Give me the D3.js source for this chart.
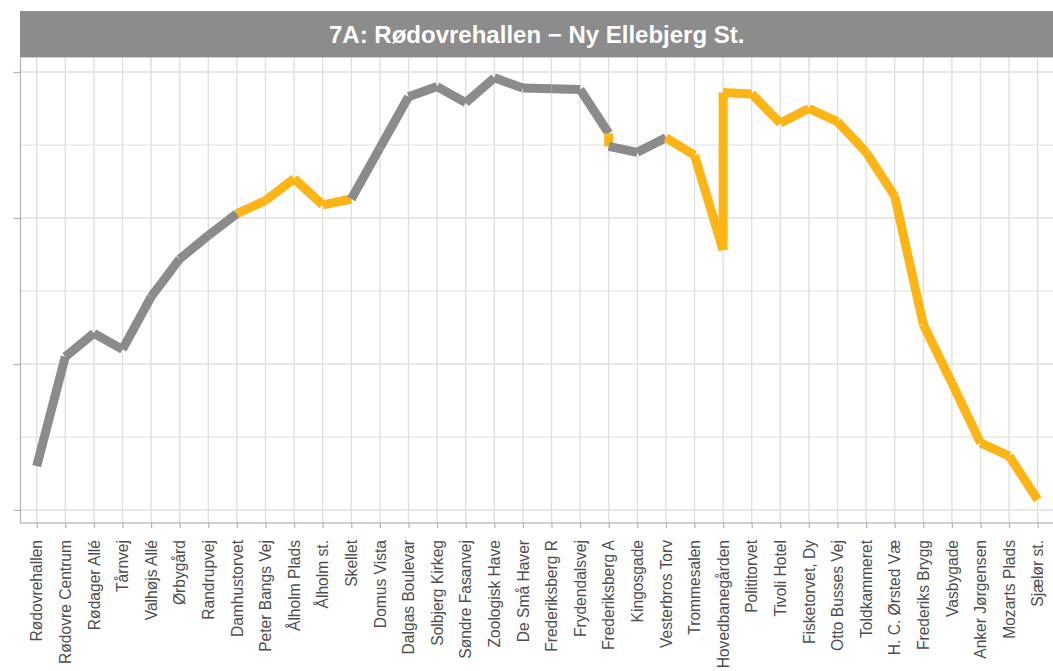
<!DOCTYPE html>
<html>
<head>
<meta charset="utf-8">
<script src="https://cdn.jsdelivr.net/npm/d3@7"></script>
<style>
  html, body { margin: 0; padding: 0; background: #fff; overflow: hidden; }
  svg { display: block; }
</style>
</head>
<body>
<div id="chart"></div>
<script>
// Route 7A, one line segment per stop-to-stop leg

const title = '7A: Rødovrehallen \u2212 Ny Ellebjerg St.';

const stops = [
    'Rødovrehallen', 'Rødovre Centrum', 'Rødager Allé', 'Tårnvej', 'Valhøjs Allé',
    'Ørbygård', 'Randrupvej', 'Damhustorvet', 'Peter Bangs Vej', 'Ålholm Plads',
    'Ålholm st.', 'Skellet', 'Domus Vista', 'Dalgas Boulevar', 'Solbjerg Kirkeg',
    'Søndre Fasanvej', 'Zoologisk Have', 'De Små Haver', 'Frederiksberg R', 'Frydendalsvej',
    'Frederiksberg A', 'Kingosgade', 'Vesterbros Torv', 'Trommesalen', 'Hovedbanegården',
    'Polititorvet', 'Tivoli Hotel', 'Fisketorvet, Dy', 'Otto Busses Vej', 'Toldkammeret',
    'H. C. Ørsted Væ', 'Frederiks Brygg', 'Vasbygade', 'Anker Jørgensen', 'Mozarts Plads',
    'Sjælør st.'
];

// path through the stops (arrival + departure where a stop appears twice)
const pathStops = [
    'Rødovrehallen', 'Rødovre Centrum', 'Rødager Allé', 'Tårnvej', 'Valhøjs Allé',
    'Ørbygård', 'Randrupvej', 'Damhustorvet', 'Peter Bangs Vej', 'Ålholm Plads',
    'Ålholm st.', 'Skellet', 'Domus Vista', 'Dalgas Boulevar', 'Solbjerg Kirkeg',
    'Søndre Fasanvej', 'Zoologisk Have', 'De Små Haver', 'Frederiksberg R', 'Frydendalsvej',
    'Frederiksberg A', 'Frederiksberg A', 'Kingosgade', 'Vesterbros Torv', 'Trommesalen',
    'Hovedbanegården', 'Hovedbanegården', 'Polititorvet', 'Tivoli Hotel', 'Fisketorvet, Dy',
    'Otto Busses Vej', 'Toldkammeret', 'H. C. Ørsted Væ', 'Frederiks Brygg', 'Vasbygade',
    'Anker Jørgensen', 'Mozarts Plads', 'Sjælør st.'
];

const pathValues = [
    3.0, 10.5, 12.1, 11.0, 14.6,
    17.2, 18.8, 20.3, 21.2, 22.7,
    20.9, 21.3, 24.8, 28.3, 29.0,
    27.9, 29.6, 28.9, 28.85, 28.8,
    25.8, 24.9, 24.5, 25.5, 24.3,
    17.8, 28.6, 28.5, 26.5, 27.5,
    26.6, 24.5, 21.5, 12.7, 8.7,
    4.6, 3.7, 0.7
];

// 1 = highlighted leg (orange), 0 = normal leg (grey); one entry per leg
const legFlag = [
    0, 0, 0, 0, 0, 0, 0,
    1, 1, 1, 1,
    0, 0, 0, 0, 0, 0, 0, 0, 0,
    1,
    0, 0,
    1, 1, 1, 1, 1, 1, 1, 1, 1, 1, 1, 1, 1, 1
];

const yMajor = [0, 10, 20, 30];
const yMinor = [5, 15, 25];

const COLORS = { normal: '#8b8b8b', flagged: '#fdb515', strip: '#8c8c8c', grid: '#e0e0e0', border: '#b3b3b3', text: '#4d4d4d' };

const width = 1053, height = 671;
const panel = { left: 20.5, right: 1055, top: 57, bottom: 523 };
const stripTop = 11;

const svg = d3.select('#chart').append('svg')
    .attr('width', width)
    .attr('height', height);

const x = d3.scalePoint().domain(stops).range([36.7, 1037.7]);
const y = d3.scaleLinear().domain([0, 30]).range([510, 72]);

// Panel background + grid
svg.append('rect')
    .attr('x', panel.left).attr('y', panel.top)
    .attr('width', panel.right - panel.left).attr('height', panel.bottom - panel.top)
    .attr('fill', '#fff');

svg.append('g').selectAll('line')
    .data(yMinor)
    .join('line')
    .attr('x1', panel.left).attr('x2', panel.right)
    .attr('y1', d => y(d)).attr('y2', d => y(d))
    .attr('stroke', COLORS.grid).attr('stroke-width', 1);

svg.append('g').selectAll('line')
    .data(yMajor)
    .join('line')
    .attr('x1', panel.left).attr('x2', panel.right)
    .attr('y1', d => y(d)).attr('y2', d => y(d))
    .attr('stroke', COLORS.grid).attr('stroke-width', 1.4);

svg.append('g').selectAll('line')
    .data(stops)
    .join('line')
    .attr('x1', d => x(d)).attr('x2', d => x(d))
    .attr('y1', panel.top).attr('y2', panel.bottom)
    .attr('stroke', COLORS.grid).attr('stroke-width', 1.4);

// Legs
const points = pathStops.map((s, i) => ({ s, v: pathValues[i] }));
const legs = legFlag.map((f, i) => ({ a: points[i], b: points[i + 1], f }));

svg.append('g').selectAll('line')
    .data(legs)
    .join('line')
    .attr('x1', d => x(d.a.s)).attr('y1', d => y(d.a.v))
    .attr('x2', d => x(d.b.s)).attr('y2', d => y(d.b.v))
    .attr('stroke', d => d.f ? COLORS.flagged : COLORS.normal)
    .attr('stroke-width', 9)
    .attr('stroke-linecap', 'butt');

// Panel border
svg.append('rect')
    .attr('x', panel.left).attr('y', panel.top)
    .attr('width', panel.right - panel.left).attr('height', panel.bottom - panel.top)
    .attr('fill', 'none')
    .attr('stroke', COLORS.border).attr('stroke-width', 1.2);

// Axes (no y labels)
const yAxis = svg.append('g')
    .attr('transform', `translate(${panel.left},0)`)
    .call(d3.axisLeft(y).tickValues(yMajor).tickSize(7).tickFormat(''));
yAxis.select('.domain').remove();
yAxis.selectAll('line').attr('stroke', COLORS.border).attr('stroke-width', 1.2);

const xAxis = svg.append('g')
    .attr('transform', `translate(0,${panel.bottom})`)
    .call(d3.axisBottom(x).tickSize(5).tickPadding(17));
xAxis.select('.domain').remove();
xAxis.selectAll('line').attr('stroke', COLORS.border).attr('stroke-width', 1.2);
xAxis.attr('font-size', null);
xAxis.selectAll('text')
    .attr('transform', 'rotate(-90)')
    .attr('text-anchor', 'end')
    .attr('x', -17)
    .attr('y', 0)
    .attr('dy', '0.33em')
    .attr('fill', COLORS.text)
    .attr('font-family', '"Liberation Sans", Arial, sans-serif')
    .attr('font-size', '15.6px');

// Facet strip
svg.append('rect')
    .attr('x', panel.left - 0.5).attr('y', stripTop)
    .attr('width', width - panel.left + 1).attr('height', panel.top - stripTop)
    .attr('fill', COLORS.strip);

svg.append('text')
    .attr('x', (panel.left + width) / 2)
    .attr('y', (stripTop + panel.top) / 2)
    .attr('dy', '0.36em')
    .attr('text-anchor', 'middle')
    .attr('fill', '#fff')
    .style('font-family', '"Liberation Sans", Arial, sans-serif')
    .style('font-weight', 'bold')
    .style('font-size', '24px')
    .text(title);
</script>
</body>
</html>
